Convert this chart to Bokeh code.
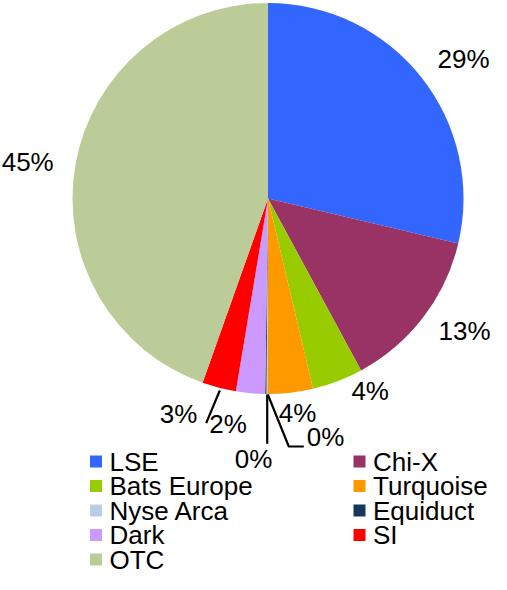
import numpy as np
from bokeh.plotting import figure
from bokeh.models import Range1d, ColumnDataSource
from bokeh.embed import file_html
from bokeh.resources import INLINE
from bokeh.core.properties import value

# ---- data ----
venues = ["LSE", "Chi-X", "Bats Europe", "Turquoise", "Nyse Arca",
          "Equiduct", "Dark", "SI", "OTC"]
shares = [28.7, 13.4, 4.2, 3.75, 0.08, 0.1, 2.4, 2.8, 44.57]
colors = ["#3366FF", "#993366", "#99CC00", "#FF9900", "#B9CDE5",
          "#17375E", "#CC99FF", "#FF0000", "#BBCC99"]

# ---- layout (picture pixel coordinates, shifted to fit the canvas) ----
W, H = 491, 574
SX, SY = -10, -9
CX, CY, R = 277.5 + SX, 207.0 + SY, 195.5
FONT = "Liberation Sans"

label_pos = {
    "LSE": (473, 67.5),
    "Chi-X": (474, 339.7),
    "Bats Europe": (379.7, 399.7),
    "Turquoise": (307, 421),
    "Nyse Arca": (263, 467.5),
    "Equiduct": (335, 445),
    "Dark": (237.5, 432),
    "SI": (188, 422.5),
    "OTC": (37.2, 170.7),
}
leaders = [
    [(229.3, 399), (215.7, 431.7)],
    [(276.7, 403), (276.7, 452.3)],
    [(277.3, 403), (298.3, 455), (313.3, 455)],
]

p = figure(width=W, height=H, x_range=Range1d(0, W),
           y_range=Range1d(-H, 0), output_backend="svg",
           toolbar_location=None, min_border=0)
p.axis.visible = False
p.grid.visible = False
p.outline_line_color = None
p.background_fill_color = "white"
p.border_fill_color = "white"

frac = np.array(shares) / np.sum(shares)
cum = np.concatenate([[0.0], np.cumsum(frac)])
start = np.pi / 2 - 2 * np.pi * cum[:-1]
end = np.pi / 2 - 2 * np.pi * cum[1:]

src = ColumnDataSource(dict(x=[CX] * len(venues), y=[-CY] * len(venues),
                            start=start, end=end, color=colors))
p.wedge(x="x", y="y", radius=R, start_angle="start", end_angle="end",
        direction="clock", fill_color="color", line_color=None, source=src)

# leader lines
p.multi_line(xs=[[pt[0] + SX for pt in l] for l in leaders],
             ys=[[-(pt[1] + SY) for pt in l] for l in leaders],
             line_color="black", line_width=2.2)

# percentage labels
pct = [f"{int(round(v))}%" for v in shares]
p.text(x=[label_pos[v][0] + SX for v in venues],
       y=[-(label_pos[v][1] + SY) for v in venues],
       text=pct, text_align="center", text_baseline="middle",
       text_font=value(FONT), text_font_size="26px", text_color="black")

# legend (two columns, row-wise)
col_x = [105.5 + SX, 369.0 + SX]
row_y0, row_dy = 470.0 + SY, 24.5
lx, ly, tx = [], [], []
for i, v in enumerate(venues):
    c, r = i % 2, i // 2
    lx.append(col_x[c])
    ly.append(-(row_y0 + r * row_dy))
    tx.append(col_x[c] + 13.5)
p.scatter(x=lx, y=ly, marker="square", size=12, fill_color=colors,
          line_color=None)
p.text(x=tx, y=ly, text=venues, text_align="left", text_baseline="middle",
       text_font=value(FONT), text_font_size="26px", text_color="black")

open("out.html", "w").write(file_html(p, INLINE))
